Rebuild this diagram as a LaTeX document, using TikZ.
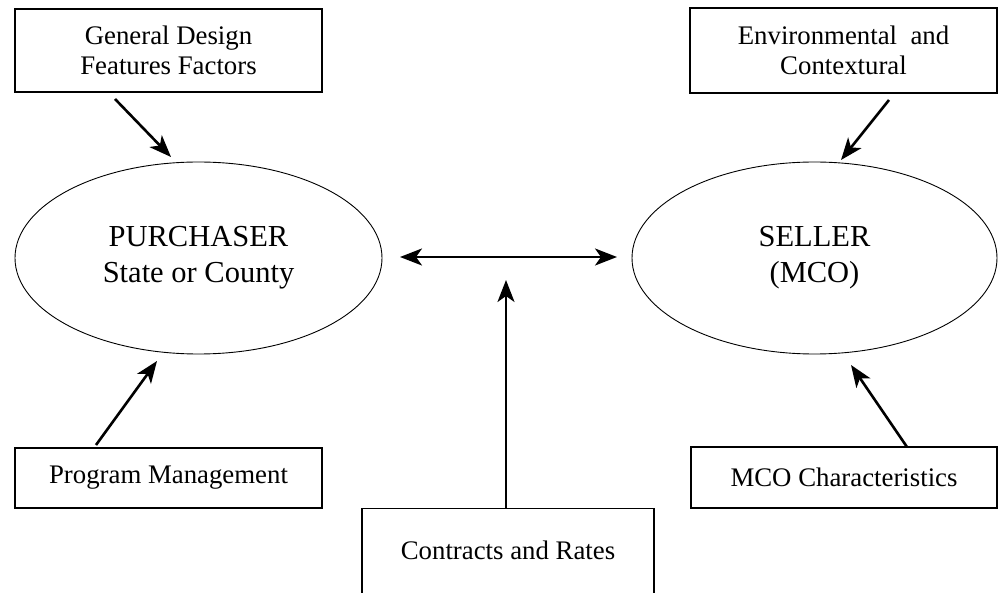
\documentclass[tikz,border=0pt]{standalone}
\usepackage{fontspec}
\setmainfont{Liberation Serif}
\usetikzlibrary{shapes.geometric,arrows.meta}
\begin{document}
\begin{tikzpicture}[x=1pt,y=-1pt,
  boxnode/.style={draw,line width=1.3pt,inner sep=0pt,align=center,
    font=\fontsize{26.8}{30}\selectfont},
  ovalnode/.style={draw,ellipse,line width=0.9pt,inner sep=0pt,align=center,
    minimum width=367pt,minimum height=192pt,font=\fontsize{30.5}{36}\selectfont},
  arr/.style={line width=2.6pt,-{Stealth[length=22pt,width=17pt,inset=6pt]}},
  darr/.style={line width=2.6pt,{Stealth[length=22pt,width=17pt,inset=6pt]}-{Stealth[length=22pt,width=17pt,inset=6pt]}}]
\useasboundingbox (0,0) rectangle (998,593);

\node[boxnode,minimum width=307pt,minimum height=83pt] (gd) at (168.5,50.5) {General Design\\Features Factors};
\node[boxnode,minimum width=307pt,minimum height=85pt] (env) at (843.5,50.5) {Environmental~ and\\Contextural};
\node[boxnode,minimum width=307pt,minimum height=60pt] (pm) at (168.5,478) {Program Management};
\node[boxnode,minimum width=306pt,minimum height=61pt] (mco) at (844,477.5) {MCO Characteristics};
\node[boxnode,anchor=north,minimum width=292pt,inner ysep=33pt,text height=18pt,text depth=100pt] (cr) at (508,508) {Contracts and Rates};

\node[ovalnode] (pur) at (198.5,258) {PURCHASER\\State or County};
\node[ovalnode,minimum width=365pt] (sel) at (814.5,258) {SELLER\\(MCO)};

\coordinate (a1s) at (115,99);  \coordinate (a1e) at (171,157);
\coordinate (a2s) at (889,100); \coordinate (a2e) at (841,160);
\coordinate (a3s) at (96,445);  \coordinate (a3e) at (157,361);
\coordinate (a4s) at (907,447); \coordinate (a4e) at (851,365);
\coordinate (hl) at (400,257);  \coordinate (hr) at (617,257);
\coordinate (vs) at (506,508);  \coordinate (ve) at (506,280);

\draw[arr] (a1s) -- (a1e);
\draw[arr] (a2s) -- (a2e);
\draw[arr] (a3s) -- (a3e);
\draw[arr] (a4s) -- (a4e);
\draw[darr] (hl) -- (hr);
\draw[arr] (vs) -- (ve);
\end{tikzpicture}
\end{document}
